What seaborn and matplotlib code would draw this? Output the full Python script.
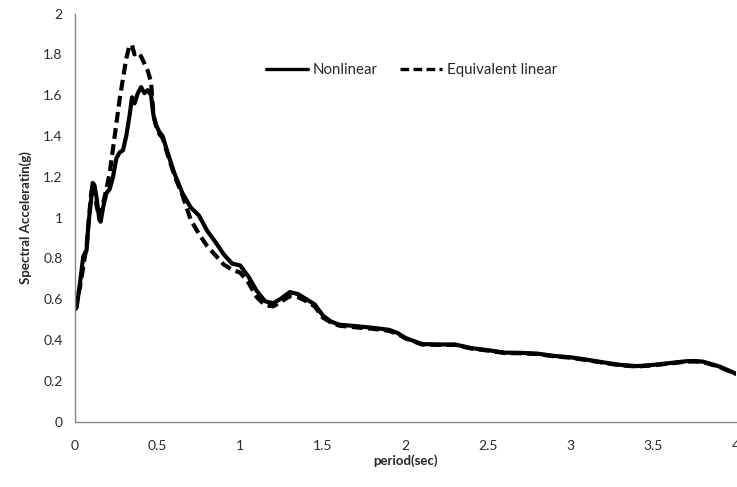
import matplotlib
matplotlib.use("Agg")
import matplotlib.pyplot as plt
import seaborn as sns
import pandas as pd
from matplotlib.ticker import FuncFormatter, MultipleLocator

# Response spectra (period in s, spectral acceleration in g)
period = [0.0, 0.01, 0.03, 0.05, 0.07, 0.08, 0.095, 0.107, 0.117, 0.13, 0.147,
          0.155, 0.17, 0.19, 0.21, 0.23, 0.25, 0.27, 0.29, 0.31, 0.33, 0.345,
          0.36, 0.38, 0.40, 0.42, 0.44, 0.46, 0.475, 0.49, 0.51, 0.53, 0.56,
          0.60, 0.65, 0.70, 0.75, 0.80, 0.85, 0.90, 0.95, 1.00, 1.05, 1.10,
          1.15, 1.20, 1.25, 1.30, 1.35, 1.40, 1.45, 1.50, 1.55, 1.60, 1.70,
          1.80, 1.90, 1.95, 2.00, 2.10, 2.20, 2.30, 2.40, 2.50, 2.60, 2.70,
          2.80, 2.90, 3.00, 3.10, 3.20, 3.30, 3.40, 3.50, 3.60, 3.70, 3.75,
          3.80, 3.90, 4.00]

nonlinear = [0.55, 0.56, 0.68, 0.81, 0.84, 0.96, 1.07, 1.17, 1.16, 1.10, 0.99,
             0.98, 1.05, 1.12, 1.14, 1.20, 1.29, 1.32, 1.33, 1.40, 1.50, 1.59,
             1.56, 1.61, 1.64, 1.61, 1.625, 1.60, 1.50, 1.455, 1.42, 1.40, 1.32,
             1.22, 1.12, 1.05, 1.01, 0.935, 0.88, 0.82, 0.775, 0.765, 0.71, 0.64,
             0.59, 0.58, 0.605, 0.635, 0.625, 0.60, 0.575, 0.52, 0.49, 0.475, 0.468,
             0.46, 0.45, 0.435, 0.41, 0.38, 0.378, 0.378, 0.36, 0.35, 0.338, 0.337,
             0.333, 0.322, 0.315, 0.303, 0.29, 0.278, 0.272, 0.278, 0.287, 0.296, 0.297,
             0.294, 0.27, 0.235]

equivalent_linear = [0.55, 0.59, 0.66, 0.76, 0.86, 0.95, 1.10, 1.17, 1.15, 1.06, 1.00,
                     1.01, 1.07, 1.14, 1.22, 1.34, 1.46, 1.58, 1.68, 1.78, 1.845, 1.845,
                     1.80, 1.81, 1.79, 1.755, 1.72, 1.665, 1.50, 1.45, 1.41, 1.39, 1.31,
                     1.21, 1.11, 0.99, 0.92, 0.86, 0.815, 0.77, 0.745, 0.73, 0.68, 0.61,
                     0.57, 0.565, 0.59, 0.615, 0.61, 0.59, 0.565, 0.51, 0.485, 0.47, 0.462,
                     0.455, 0.445, 0.43, 0.408, 0.378, 0.376, 0.376, 0.358, 0.348, 0.336, 0.335,
                     0.331, 0.32, 0.313, 0.301, 0.288, 0.276, 0.27, 0.276, 0.285, 0.294, 0.295,
                     0.292, 0.268, 0.233]

series_names = ["Nonlinear", "Equivalent linear"]
x_ticks = [0, 0.5, 1, 1.5, 2, 2.5, 3, 3.5, 4]

df = pd.concat([
    pd.DataFrame({"period": period, "Sa": nonlinear, "model": series_names[0]}),
    pd.DataFrame({"period": period, "Sa": equivalent_linear, "model": series_names[1]}),
], ignore_index=True)

sns.set_style("white")
plt.rcParams["font.family"] = ["Lato", "DejaVu Sans"]

fig = plt.figure(figsize=(7.37, 4.87), dpi=100)
ax = fig.add_axes([0.1018, 0.1343, 0.8968, 0.8377])

sns.lineplot(data=df, x="period", y="Sa", style="model",
             style_order=series_names,
             dashes={series_names[0]: "", series_names[1]: (2.6, 1.3)},
             color="black", linewidth=3.0, ax=ax, sort=False)

ax.set_xlim(0, 4)
ax.set_ylim(0, 2)
ax.set_xticks(x_ticks)
ax.yaxis.set_major_locator(MultipleLocator(0.2))
fmt = FuncFormatter(lambda v, p: f"{v:g}")
ax.xaxis.set_major_formatter(fmt)
ax.yaxis.set_major_formatter(fmt)

for side in ["top", "right"]:
    ax.spines[side].set_visible(False)
for side in ["left", "bottom"]:
    ax.spines[side].set_color("#868686")
    ax.spines[side].set_linewidth(1.0)

ax.tick_params(axis="both", direction="out", length=5, width=1.0,
               color="#868686", labelsize=10, labelcolor="#2b2b2b", pad=4)
ax.tick_params(axis="x", pad=8)

ax.set_xlabel("period(sec)", fontsize=9.5, fontweight="bold", labelpad=2)
ax.set_ylabel("Spectral Acceleratin(g)", fontsize=9.5, fontweight="bold", labelpad=8)

leg = ax.legend(loc="center left", bbox_to_anchor=(0.28, 0.862), ncol=2,
                frameon=False, fontsize=10.8, handlelength=2.8,
                handletextpad=0.33, columnspacing=1.5, borderaxespad=0)
for line in leg.get_lines():
    line.set_linewidth(2.4)

fig.savefig("out.png", dpi=100)
